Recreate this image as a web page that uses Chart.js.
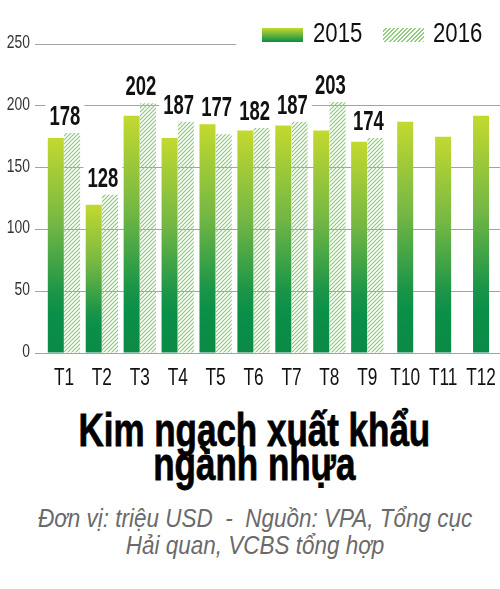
<!DOCTYPE html>
<html>
<head>
<meta charset="utf-8">
<script src="https://cdn.jsdelivr.net/npm/chart.js@4.4.1/dist/chart.umd.min.js"></script>
<style>
  body { margin: 0; background: #fff; }
  #wrap { position: relative; width: 500px; height: 589px; overflow: hidden; }
  #chart { position: absolute; left: 0; top: 0; }
  .lg-box { position: absolute; width: 41px; height: 14px; }
  .lg-txt { position: absolute; font: 27px/27px "Liberation Sans", Arial, sans-serif; color: #111;
    transform: scaleX(0.82); transform-origin: 0 0; }
  .block { position: absolute; left: 4px; width: 500px; text-align: center; }
  .block span { display: inline-block; white-space: nowrap; transform-origin: 50% 0; }
  #title { top: 413px; font: bold 46px/34px "Liberation Sans", Arial, sans-serif; color: #000;
    -webkit-text-stroke: 0.8px #000; }
  #sub { top: 505px; font: italic 26px/27px "Liberation Sans", Arial, sans-serif; color: #6a6a6a; }
</style>
</head>
<body>
<div id="wrap">
  <canvas id="chart" width="500" height="400"></canvas>
  <div class="lg-box" style="left:262px;top:28px;background:linear-gradient(#c3d92f,#0a8c46);"></div>
  <span class="lg-txt" style="left:313px;top:20px;">2015</span>
  <div class="lg-box" style="left:383px;top:28px;background:repeating-linear-gradient(-45deg,#93cb80 0 1.3px,#fff 1.3px 3px);"></div>
  <span class="lg-txt" style="left:433px;top:20px;">2016</span>
  <div id="title" class="block"><span>Kim ngạch xuất khẩu<br>ngành nhựa</span></div>
  <div id="sub" class="block"><span>Đơn vị: triệu USD&nbsp; - &nbsp;Nguồn: VPA, Tổng cục<br>Hải quan, VCBS tổng hợp</span></div>
</div>
<script>
// du lieu doc tu hinh
const months = ["T1","T2","T3","T4","T5","T6","T7","T8","T9","T10","T11","T12"];
const data2015 = [174, 120, 192, 174, 185, 180, 184, 180, 171, 187, 175, 192];
const data2016 = [178, 128, 202, 187, 177, 182, 187, 203, 174, null, null, null];
const yTicks = [0, 50, 100, 150, 200, 250];

const FONT = '"Liberation Sans", Arial, sans-serif';
const GRID = '#a3a3a3';

// co chu cho vua be rong (font hep khong co san)
const fit = (id, w) => {
  const s = document.querySelector("#" + id + " span");
  s.style.transform = "scaleX(" + (w / s.offsetWidth) + ")";
};
fit("title", 352);
fit("sub", 434);

// hatch pattern cho 2016
const pc = document.createElement("canvas");
pc.width = 4; pc.height = 4;
const p = pc.getContext("2d");
p.strokeStyle = "#8ec87a";
p.lineWidth = 1.2;
p.beginPath();
p.moveTo(0, 4); p.lineTo(4, 0);
p.moveTo(-1, 1); p.lineTo(1, -1);
p.moveTo(3, 5); p.lineTo(5, 3);
p.stroke();
const ctx = document.getElementById("chart").getContext("2d");
const hatch = ctx.createPattern(pc, "repeat");

// gradient theo tung cot
const barGradient = (c) => {
  const chart = c.chart;
  if (!chart.chartArea || c.raw == null) return "#5fae46";
  const y = chart.scales.y;
  const top = y.getPixelForValue(c.raw);
  const bottom = y.getPixelForValue(0);
  const g = chart.ctx.createLinearGradient(0, top, 0, bottom);
  g.addColorStop(0, "#c3d92f");
  g.addColorStop(0.4, "#74b744");
  g.addColorStop(0.72, "#1b9548");
  g.addColorStop(0.82, "#0a9048");
  g.addColorStop(1, "#0b8a46");
  return g;
};

const textX = (c, txt, x, y, sx) => {
  c.save();
  c.translate(x, y);
  c.scale(sx, 1);
  c.fillText(txt, 0, 0);
  c.restore();
};

const labelPlugin = {
  id: "labels2016",
  beforeDatasetsDraw(chart) {
    // duong 250 chi ve toi chu thich
    const y = chart.scales.y;
    const c = chart.ctx;
    const yy = Math.round(y.getPixelForValue(250)) + 0.5;
    c.save();
    c.strokeStyle = GRID;
    c.lineWidth = 1;
    c.beginPath();
    c.moveTo(chart.chartArea.left - 10, yy);
    c.lineTo(236, yy);
    c.stroke();
    c.restore();
  },
  afterDatasetsDraw(chart) {
    const c = chart.ctx;
    const m0 = chart.getDatasetMeta(0);
    const m1 = chart.getDatasetMeta(1);
    const xs = chart.scales.x, ys = chart.scales.y;
    c.save();
    c.textBaseline = "alphabetic";
    c.textAlign = "center";

    // so lieu 2016
    c.font = "bold 28px " + FONT;
    data2016.forEach((v, i) => {
      if (v == null) return;
      const b0 = m0.data[i], b1 = m1.data[i];
      const x = (b0.x + b1.x) / 2 + 1;
      const top = Math.min(b0.y, b1.y) - 8;
      const txt = String(v);
      const w = c.measureText(txt).width * 0.66;
      c.fillStyle = "#fff";
      c.fillRect(x - w / 2 - 4, top - 22, w + 8, 23);
      c.fillStyle = "#111";
      textX(c, txt, x, top, 0.66);
    });

    // nhan truc x
    c.font = "23px " + FONT;
    c.fillStyle = "#111";
    months.forEach((m, i) => {
      textX(c, m, xs.getPixelForValue(i), chart.chartArea.bottom + 32, 0.75);
    });

    // nhan truc y
    c.font = "19px " + FONT;
    c.fillStyle = "#333";
    c.textAlign = "right";
    yTicks.forEach((v) => {
      textX(c, String(v), chart.chartArea.left - 15, ys.getPixelForValue(v) + 4, 0.73);
    });
    c.restore();
  }
};

new Chart(ctx, {
  type: "bar",
  data: {
    labels: months,
    datasets: [
      { label: "2015", data: data2015, backgroundColor: barGradient, borderWidth: 0 },
      { label: "2016", data: data2016, backgroundColor: hatch, borderWidth: 0 }
    ]
  },
  options: {
    responsive: false,
    animation: false,
    skipNull: true,
    maxBarThickness: 16,
    categoryPercentage: 0.86,
    barPercentage: 1,
    layout: { padding: { top: 44, right: 0, bottom: 0, left: 0 } },
    plugins: { legend: { display: false }, tooltip: { enabled: false } },
    scales: {
      x: {
        grid: { display: false, drawTicks: false },
        border: { display: false },
        ticks: { display: false },
        afterFit: (s) => { s.height = 47; }
      },
      y: {
        min: 0,
        max: 250,
        afterBuildTicks: (s) => { s.ticks = yTicks.map(v => ({ value: v })); },
        grid: {
          color: (c) => (c.tick && c.tick.value === 250 ? "transparent" : GRID),
          tickLength: 10,
          drawTicks: true
        },
        border: { display: false },
        ticks: { display: false },
        afterFit: (s) => { s.width = 45; }
      }
    }
  },
  plugins: [labelPlugin]
});
</script>
</body>
</html>
